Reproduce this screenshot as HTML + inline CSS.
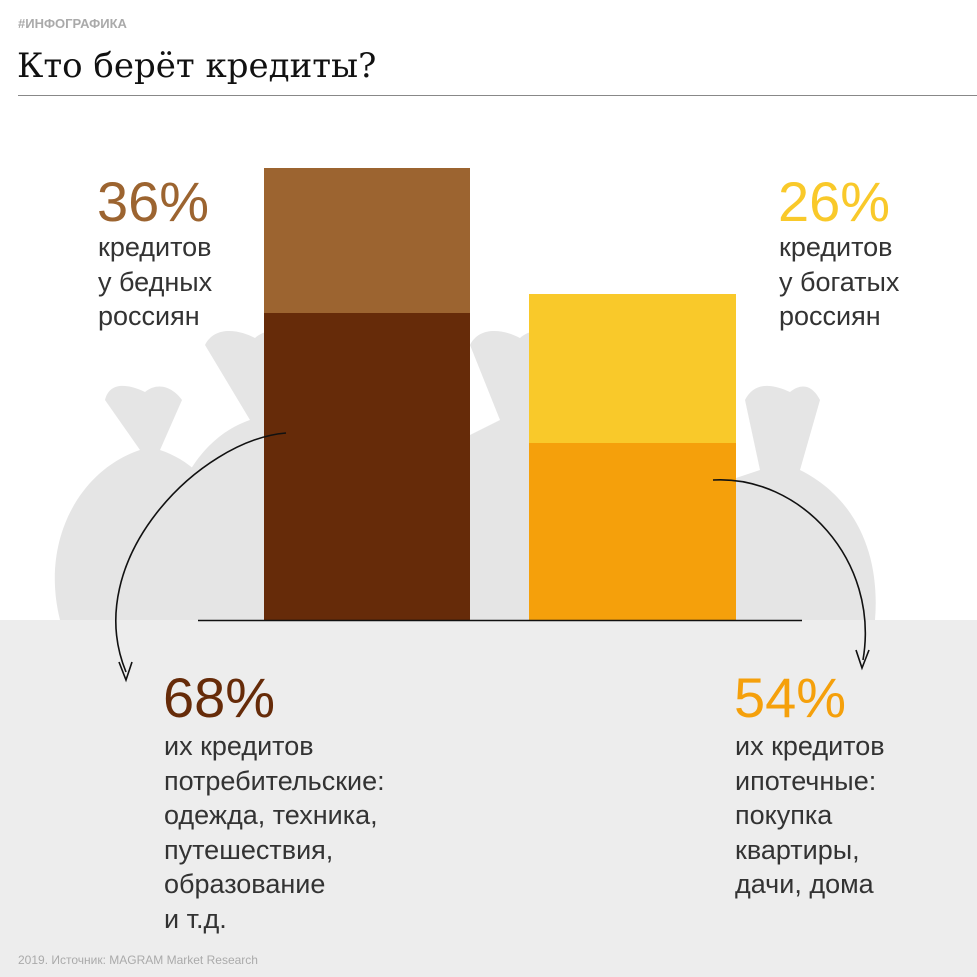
<!DOCTYPE html>
<html><head><meta charset="utf-8"><style>
html,body{margin:0;padding:0;background:#fff;}
body{width:977px;height:977px;position:relative;overflow:hidden;font-family:"Liberation Sans","DejaVu Sans",sans-serif;}
.t{position:absolute;white-space:nowrap;}
.big{font-size:56px;line-height:56px;}
.txt{font-size:27px;line-height:34.5px;color:#333;}
</style></head><body>
<svg width="977" height="977" style="position:absolute;left:0;top:0">
<rect x="0" y="620" width="977" height="357" fill="#ededed"/>
<g fill="#e5e5e5">
 <path d="M60,620 C40,540 80,470 140,450 L105,400 C110,380 130,385 145,392 C160,380 175,390 182,400 L160,450 C220,470 250,540 240,620Z"/>
 <path d="M170,620 C150,520 190,440 250,420 L205,345 C215,325 240,330 255,338 C270,325 285,335 290,345 L270,420 C300,440 310,520 300,620Z"/>
 <path d="M460,620 L460,440 L500,420 L470,345 C480,325 505,330 520,338 C535,325 550,335 555,345 L530,430 L540,620Z"/>
 <path d="M730,620 L730,480 L760,470 L745,400 C755,380 775,385 790,392 C805,380 815,390 820,400 L800,470 C860,500 880,560 875,620Z"/>
</g>
<rect x="264" y="168" width="206" height="145" fill="#9c6430"/>
<rect x="264" y="313" width="206" height="307" fill="#662b09"/>
<rect x="529" y="294" width="207" height="149" fill="#f9c92a"/>
<rect x="529" y="443" width="207" height="177" fill="#f5a00b"/>
<line x1="198" y1="620.5" x2="802" y2="620.5" stroke="#111" stroke-width="1.5"/>
<line x1="18" y1="95.5" x2="977" y2="95.5" stroke="#888" stroke-width="1"/>
<path d="M286,433 C200,440 80,560 126,672" fill="none" stroke="#111" stroke-width="1.6"/>
<path d="M119,662 L126,680 L132,662" fill="none" stroke="#111" stroke-width="1.6"/>
<path d="M713,480 C800,475 880,560 863,660" fill="none" stroke="#111" stroke-width="1.6"/>
<path d="M856,650 L862,668 L869,650" fill="none" stroke="#111" stroke-width="1.6"/>
</svg>
<div class="t" style="left:18px;top:16px;font-size:13px;font-weight:bold;color:#aaa;">#ИНФОГРАФИКА</div>
<div class="t" style="left:17px;top:46px;font-size:34px;font-family:'DejaVu Serif','Liberation Serif',serif;color:#111;">Кто берёт кредиты?</div>
<div class="t big" style="left:97px;top:174px;color:#9c6430;">36%</div>
<div class="t txt" style="left:98px;top:230px;">кредитов<br>у бедных<br>россиян</div>
<div class="t big" style="left:778px;top:174px;color:#f9c92a;">26%</div>
<div class="t txt" style="left:779px;top:230px;">кредитов<br>у богатых<br>россиян</div>
<div class="t big" style="left:163px;top:670px;color:#662b09;">68%</div>
<div class="t txt" style="left:164px;top:729px;">их кредитов<br>потребительские:<br>одежда, техника,<br>путешествия,<br>образование<br>и т.д.</div>
<div class="t big" style="left:734px;top:670px;color:#f5a00b;">54%</div>
<div class="t txt" style="left:735px;top:729px;">их кредитов<br>ипотечные:<br>покупка<br>квартиры,<br>дачи, дома</div>
<div class="t" style="left:18px;top:953px;font-size:12px;color:#aaa;">2019. Источник: MAGRAM Market Research</div>
</body></html>
